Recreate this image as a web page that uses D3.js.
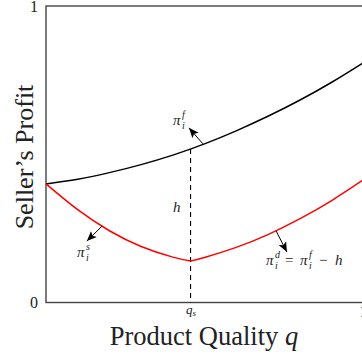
<!DOCTYPE html>
<html><head><meta charset="utf-8">
<script src="https://cdn.jsdelivr.net/npm/d3@7"></script>
<style>
html,body{margin:0;padding:0;background:#fff;overflow:hidden}
text{font-family:"Liberation Serif","DejaVu Serif",serif;fill:#222}
</style></head>
<body><svg id="c" width="362" height="356"></svg>
<script>
// ---- data ----
const qs = 0.456;
const qGrid = [0, 0.1, 0.2, 0.3, 0.4, 0.5, 0.6, 0.7, 0.8, 0.9, 1.0];
const piF = [0.400, 0.416, 0.438, 0.465, 0.497, 0.535, 0.579, 0.628, 0.682, 0.742, 0.808];
const qLeft = [0, 0.1, 0.2, 0.3, 0.4, 0.456];
const piS = [0.400, 0.313, 0.242, 0.189, 0.153, 0.140];
const qRight = [0.456, 0.5, 0.6, 0.7, 0.8, 0.9, 1.0];
const piD = [0.140, 0.152, 0.186, 0.229, 0.282, 0.343, 0.413];
const piFatQs = 0.518;
const yTicks = [0, 1];
const xTicks = [qs, 1];
const xTickLabels = ["q_s", "1"];
// annotations in data coordinates: [tailQ, tailV, tipQ, tipV]
const arrows = [
  [0.495, 0.535, 0.451, 0.589],
  [0.177, 0.258, 0.129, 0.207],
  [0.726, 0.241, 0.760, 0.170]
];
const hLabel = [0.401, 0.305];
const labelF = [0.401, 0.599];
const labelS = [0.098, 0.153];
const labelD = [0.694, 0.126];

// ---- layout ----
const svg = d3.select("#c");
const x = d3.scaleLinear().domain([0, 1]).range([46, 363]);
const y = d3.scaleLinear().domain([0, 1]).range([302.5, 6]);

svg.append("defs").append("marker")
  .attr("id", "ah").attr("viewBox", "0 0 10 10").attr("refX", 10).attr("refY", 5)
  .attr("markerWidth", 10).attr("markerHeight", 10).attr("markerUnits", "userSpaceOnUse")
  .attr("orient", "auto")
  .append("path").attr("d", "M0,0.8 L10,5 L0,9.2 L2.2,5 Z").attr("fill", "#000");

// frame
svg.append("rect").attr("x", x(0)).attr("y", y(1)).attr("width", x(1) - x(0)).attr("height", y(0) - y(1))
  .attr("fill", "none").attr("stroke", "#444").attr("stroke-width", 1.4);

// axes (labels only)
const ya = svg.append("g").attr("transform", `translate(${x(0)},0)`)
  .call(d3.axisLeft(y).tickValues(yTicks).tickSize(0).tickPadding(8).tickFormat(d3.format("d")));
ya.select(".domain").remove();
ya.selectAll(".tick line").remove();
ya.selectAll("text").style("font-size", "16px").style("font-family", "Liberation Serif, serif").attr("fill", "#222");

const xa = svg.append("g").attr("transform", `translate(0,${y(0)})`)
  .call(d3.axisBottom(x).tickValues(xTicks).tickSize(0).tickPadding(4).tickFormat((d, i) => xTickLabels[i]));
xa.select(".domain").remove();
xa.selectAll(".tick line").remove();
xa.selectAll("text").each(function (d, i) {
  const t = d3.select(this).attr("fill", "#222").style("font-family", "Liberation Serif, serif");
  const lab = xTickLabels[i];
  if (lab.includes("_")) {
    const [a, b] = lab.split("_");
    t.text(null).style("font-size", "13px").attr("dy", "0.6em");
    t.append("tspan").text(a).style("font-style", "italic");
    t.append("tspan").text(b).style("font-style", "italic").style("font-size", "9px").attr("dy", "2");
  } else {
    t.style("font-size", "16px").attr("dy", "0.75em").attr("y", 2);
  }
});

// dashed h line
svg.append("line").attr("x1", x(qs)).attr("x2", x(qs)).attr("y1", y(piFatQs)).attr("y2", y(0))
  .attr("stroke", "#000").attr("stroke-width", 1.1).attr("stroke-dasharray", "5,4");

const line = d3.line().x(d => x(d[0])).y(d => y(d[1])).curve(d3.curveNatural);
svg.append("path").datum(qGrid.map((q, i) => [q, piF[i]]))
  .attr("d", line).attr("fill", "none").attr("stroke", "#000").attr("stroke-width", 1.5);
svg.append("path").datum(qLeft.map((q, i) => [q, piS[i]]))
  .attr("d", line).attr("fill", "none").attr("stroke", "#ff0000").attr("stroke-width", 1.5);
svg.append("path").datum(qRight.map((q, i) => [q, piD[i]]))
  .attr("d", line).attr("fill", "none").attr("stroke", "#ff0000").attr("stroke-width", 1.5);

// arrows
arrows.forEach(a => {
  svg.append("line").attr("x1", x(a[0])).attr("y1", y(a[1])).attr("x2", x(a[2])).attr("y2", y(a[3]))
    .attr("stroke", "#000").attr("stroke-width", 1).attr("marker-end", "url(#ah)");
});

// pi labels
function piSym(g, x0, sup) {
  g.append("text").attr("x", x0).attr("y", 0).text("π").style("font-size", "15px").style("font-style", "italic");
  g.append("text").attr("x", x0 + 9).attr("y", -7).text(sup).style("font-size", "10px").style("font-style", "italic");
  g.append("text").attr("x", x0 + 9).attr("y", 4).text("i").style("font-size", "10px").style("font-style", "italic");
}
const gF = svg.append("g").attr("transform", `translate(${x(labelF[0])},${y(labelF[1])})`);
piSym(gF, 0, "f");
const gS = svg.append("g").attr("transform", `translate(${x(labelS[0])},${y(labelS[1])})`);
piSym(gS, 0, "s");
const gD = svg.append("g").attr("transform", `translate(${x(labelD[0])},${y(labelD[1])})`);
piSym(gD, 0, "d");
gD.append("text").attr("x", 19).attr("y", 0).text("=").style("font-size", "15px");
piSym(gD, 34, "f");
gD.append("text").attr("x", 53).attr("y", 0).text("−").style("font-size", "15px");
gD.append("text").attr("x", 69).attr("y", 0).text("h").style("font-size", "15px").style("font-style", "italic");

svg.append("text").attr("x", x(hLabel[0])).attr("y", y(hLabel[1])).text("h")
  .style("font-size", "15px").style("font-style", "italic");

// axis titles
const xt = svg.append("text").attr("x", 204).attr("y", 345).attr("text-anchor", "middle").style("font-size", "26.5px");
xt.append("tspan").text("Product Quality ");
xt.append("tspan").text("q").style("font-style", "italic");
svg.append("text").attr("transform", "translate(33,157) rotate(-90)").attr("text-anchor", "middle")
  .style("font-size", "26px").text("Seller’s Profit");
</script></body></html>
